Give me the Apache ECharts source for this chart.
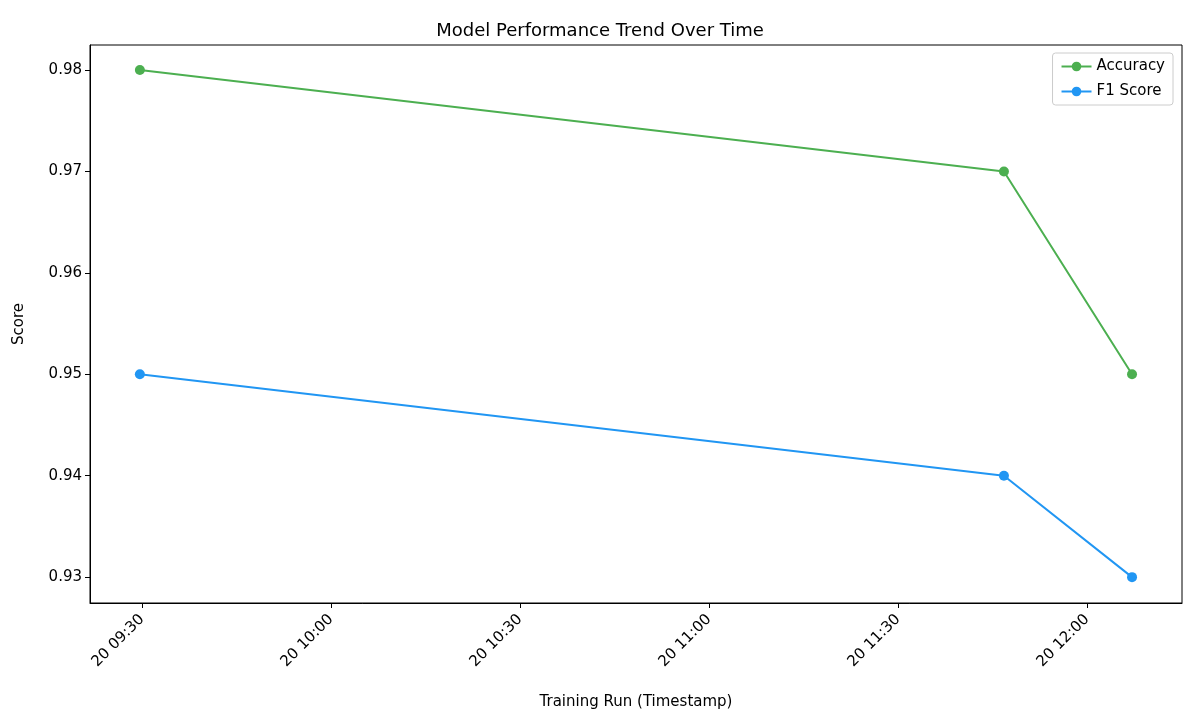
<!DOCTYPE html>
<html><head><meta charset="utf-8">
<script src="https://cdn.jsdelivr.net/npm/echarts@6/dist/echarts.min.js"></script>
<style>html,body{margin:0;background:#fff}#c{width:1200px;height:720px}</style>
</head><body><div id="c"></div>
<script>
const timestamps = ['09:29:40', '11:46:50', '12:07:10'];
const accuracy = [0.98, 0.97, 0.95];
const f1Score = [0.95, 0.94, 0.93];
const xTicks = [570, 600, 630, 660, 690, 720];
const yTicks = [0.93, 0.94, 0.95, 0.96, 0.97, 0.98];

function toMin(t){ const p = t.split(':').map(Number); return p[0]*60 + p[1] + p[2]/60; }
function fmt(m){ const h = Math.floor(m/60), mm = Math.round(m%60); return '20 ' + String(h).padStart(2,'0') + ':' + String(mm).padStart(2,'0'); }

const chart = echarts.init(document.getElementById('c'));
const font = 'DejaVu Sans';
chart.setOption({
  animation: false,
  textStyle: {fontFamily: font},
  title: {text: 'Model Performance Trend Over Time', left: 'center', top: 17,
    textStyle: {fontSize: 18, fontWeight: 'normal', color: '#000', fontFamily: font}},
  legend: {right: 27, top: 53, orient: 'vertical', itemGap: 10, itemWidth: 30, itemHeight: 12,
    borderColor: '#ccc', borderWidth: 1, borderRadius: 3, padding: [6, 8],
    textStyle: {fontSize: 15, color: '#000'}},
  grid: {left: 90, right: 18, top: 45, bottom: 117},
  xAxis: {type: 'value', min: 561.75, max: 735.1,
    name: 'Training Run (Timestamp)', nameLocation: 'middle', nameGap: 92,
    nameTextStyle: {fontSize: 15, color: '#000'},
    axisLine: {show: true, lineStyle: {color: '#000'}},
    axisTick: {show: true, customValues: xTicks, length: 5, lineStyle: {color: '#000'}},
    axisLabel: {customValues: xTicks, rotate: 45, fontSize: 15, color: '#000', formatter: fmt, margin: 14},
    splitLine: {show: false}},
  yAxis: {type: 'value', min: 0.92745, max: 0.98247,
    name: 'Score', nameLocation: 'middle', nameGap: 63,
    nameTextStyle: {fontSize: 15, color: '#000'},
    axisLine: {show: true, lineStyle: {color: '#000'}},
    axisTick: {show: true, customValues: yTicks, length: 5, lineStyle: {color: '#000'}},
    axisLabel: {customValues: yTicks, fontSize: 15, color: '#000', formatter: v => v.toFixed(2)},
    splitLine: {show: false}},
  series: [
    {name: 'Accuracy', type: 'line', color: '#4caf50', symbol: 'circle', symbolSize: 10,
     lineStyle: {width: 2}, data: timestamps.map((t, i) => [toMin(t), accuracy[i]])},
    {name: 'F1 Score', type: 'line', color: '#2196f3', symbol: 'circle', symbolSize: 10,
     lineStyle: {width: 2}, data: timestamps.map((t, i) => [toMin(t), f1Score[i]])}
  ],
  graphic: [{type: 'rect', shape: {x: 90, y: 45, width: 1092, height: 558},
    style: {fill: null, stroke: '#000', lineWidth: 1}, silent: true}]
});
</script></body></html>
